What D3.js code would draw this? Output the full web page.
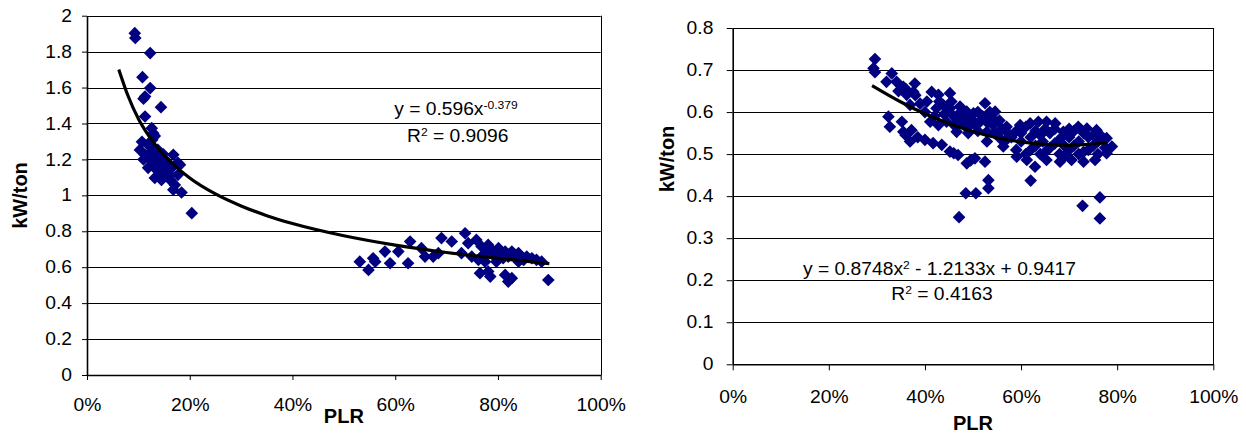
<!DOCTYPE html>
<html>
<head>
<meta charset="utf-8">
<script src="https://cdn.jsdelivr.net/npm/d3@7"></script>
<style>
  body { margin: 0; background: #fff; }
  svg { display: block; font-family: "Liberation Sans", Arial, sans-serif; }
</style>
</head>
<body>
<div id="chart"></div>
<script>
// ---- data ----
const xTicks = [0, 0.2, 0.4, 0.6, 0.8, 1];
const leftYTicks = [0, 0.2, 0.4, 0.6, 0.8, 1, 1.2, 1.4, 1.6, 1.8, 2];
const rightYTicks = [0, 0.1, 0.2, 0.3, 0.4, 0.5, 0.6, 0.7, 0.8];

// [PLR, kW/ton]
const leftPoints = [
  [0.093, 1.903], [0.094, 1.876], [0.123, 1.792], [0.108, 1.658], [0.123, 1.597],
  [0.110, 1.538], [0.113, 1.550], [0.144, 1.491], [0.113, 1.439], [0.126, 1.374],
  [0.129, 1.346], [0.132, 1.330], [0.103, 1.253], [0.107, 1.298], [0.113, 1.226],
  [0.119, 1.281], [0.123, 1.198], [0.127, 1.309], [0.132, 1.170], [0.138, 1.253],
  [0.142, 1.142], [0.146, 1.209], [0.152, 1.114], [0.156, 1.187], [0.162, 1.086],
  [0.165, 1.153], [0.177, 1.114], [0.171, 1.058], [0.181, 1.170], [0.119, 1.153],
  [0.132, 1.097], [0.168, 1.226], [0.177, 1.181], [0.145, 1.086], [0.168, 1.031],
  [0.184, 1.016], [0.204, 0.901], [0.110, 1.200], [0.125, 1.240], [0.135, 1.210],
  [0.150, 1.150], [0.140, 1.180], [0.158, 1.130], [0.128, 1.270], [0.136, 1.140],
  [0.148, 1.230], [0.160, 1.110], [0.118, 1.220], [0.143, 1.120], [0.155, 1.160],
  [0.531, 0.631], [0.548, 0.585], [0.557, 0.650], [0.561, 0.631], [0.580, 0.687],
  [0.590, 0.622], [0.606, 0.687], [0.625, 0.622], [0.629, 0.743], [0.651, 0.706],
  [0.658, 0.659], [0.674, 0.659], [0.684, 0.678], [0.690, 0.762], [0.710, 0.743],
  [0.736, 0.789], [0.742, 0.734], [0.729, 0.678], [0.749, 0.659], [0.758, 0.752],
  [0.768, 0.715], [0.775, 0.678], [0.781, 0.724], [0.788, 0.696], [0.794, 0.659],
  [0.801, 0.706], [0.807, 0.678], [0.814, 0.687], [0.820, 0.659], [0.827, 0.687],
  [0.833, 0.669], [0.840, 0.678], [0.846, 0.659], [0.856, 0.659], [0.866, 0.650],
  [0.875, 0.641], [0.885, 0.631], [0.765, 0.567], [0.781, 0.576], [0.785, 0.548],
  [0.814, 0.557], [0.820, 0.520], [0.827, 0.539], [0.898, 0.529], [0.797, 0.631],
  [0.775, 0.631], [0.840, 0.631], [0.768, 0.659], [0.762, 0.641], [0.810, 0.650],
  [0.790, 0.680], [0.850, 0.640]
];

const leftTrend = [
  [0.062, 1.70], [0.08, 1.553], [0.10, 1.426], [0.12, 1.332], [0.15, 1.223],
  [0.20, 1.097], [0.25, 1.008], [0.30, 0.941], [0.35, 0.887], [0.40, 0.843],
  [0.50, 0.775], [0.60, 0.723], [0.70, 0.682], [0.80, 0.649], [0.90, 0.620]
];

const rightPoints = [
  // upper branch
  [0.296, 0.726], [0.293, 0.704], [0.296, 0.695], [0.331, 0.692], [0.320, 0.672],
  [0.341, 0.672], [0.355, 0.660], [0.379, 0.668], [0.362, 0.641], [0.376, 0.648],
  [0.369, 0.617], [0.414, 0.648], [0.428, 0.641], [0.452, 0.645], [0.404, 0.625],
  [0.424, 0.609], [0.438, 0.617], [0.452, 0.609], [0.473, 0.613], [0.487, 0.601],
  [0.501, 0.597], [0.525, 0.621], [0.546, 0.601], [0.411, 0.577], [0.428, 0.569],
  [0.466, 0.553], [0.445, 0.577], [0.473, 0.577], [0.494, 0.569], [0.515, 0.577],
  [0.529, 0.553], [0.529, 0.530], [0.556, 0.538], [0.570, 0.553], [0.542, 0.569],
  [0.460, 0.590], [0.480, 0.585], [0.500, 0.580], [0.520, 0.590], [0.440, 0.595],
  [0.390, 0.620], [0.400, 0.600], [0.345, 0.650], [0.530, 0.575], [0.555, 0.580],
  [0.510, 0.555], [0.490, 0.550], [0.545, 0.550], [0.420, 0.590], [0.455, 0.625],
  [0.470, 0.595], [0.490, 0.585], [0.510, 0.600], [0.535, 0.600], [0.505, 0.570],
  [0.485, 0.565], [0.460, 0.570], [0.430, 0.625], [0.380, 0.640], [0.360, 0.655],
  [0.540, 0.585], [0.560, 0.560],
  // lower branch
  [0.324, 0.589], [0.327, 0.565], [0.352, 0.577], [0.355, 0.553], [0.372, 0.557],
  [0.369, 0.530], [0.400, 0.534], [0.417, 0.526], [0.435, 0.522], [0.452, 0.506],
  [0.469, 0.498], [0.487, 0.478], [0.504, 0.490], [0.525, 0.482], [0.532, 0.438],
  [0.532, 0.419], [0.485, 0.407], [0.506, 0.407], [0.471, 0.350], [0.360, 0.545],
  [0.385, 0.540], [0.460, 0.502], [0.495, 0.485],
  // dense band
  [0.570, 0.565], [0.598, 0.569], [0.619, 0.573], [0.636, 0.577], [0.653, 0.577],
  [0.671, 0.573], [0.688, 0.553], [0.719, 0.565], [0.737, 0.561], [0.757, 0.557],
  [0.778, 0.538], [0.789, 0.518], [0.778, 0.502], [0.591, 0.494], [0.612, 0.486],
  [0.629, 0.470], [0.620, 0.437], [0.653, 0.486], [0.681, 0.482], [0.705, 0.486],
  [0.730, 0.482], [0.754, 0.486], [0.563, 0.518], [0.580, 0.540], [0.600, 0.530],
  [0.600, 0.550], [0.620, 0.510], [0.620, 0.540], [0.630, 0.555], [0.640, 0.500],
  [0.645, 0.530], [0.660, 0.515], [0.660, 0.550], [0.680, 0.500], [0.680, 0.535],
  [0.700, 0.510], [0.700, 0.540], [0.720, 0.500], [0.720, 0.530], [0.740, 0.510],
  [0.740, 0.540], [0.760, 0.500], [0.760, 0.530], [0.775, 0.515], [0.590, 0.510],
  [0.610, 0.565], [0.650, 0.560], [0.710, 0.555], [0.730, 0.550], [0.750, 0.545],
  [0.690, 0.520], [0.670, 0.560], [0.570, 0.535], [0.610, 0.500], [0.630, 0.520],
  [0.650, 0.505], [0.670, 0.525], [0.690, 0.495], [0.710, 0.520], [0.730, 0.505],
  [0.750, 0.520], [0.765, 0.545], [0.590, 0.555], [0.640, 0.545], [0.700, 0.560],
  // outliers
  [0.728, 0.377], [0.764, 0.397], [0.764, 0.347]
];

const rightTrend = [
  [0.29, 0.663], [0.35, 0.624], [0.40, 0.596], [0.45, 0.573], [0.50, 0.554],
  [0.55, 0.539], [0.60, 0.529], [0.65, 0.523], [0.70, 0.521], [0.75, 0.524],
  [0.78, 0.527]
];

const leftEquation = [
  [["y = 0.596x", false], ["-0.379", true]],
  [["R", false], ["2", true], [" = 0.9096", false]]
];
const rightEquation = [
  [["y = 0.8748x", false], ["2", true], [" - 1.2133x + 0.9417", false]],
  [["R", false], ["2", true], [" = 0.4163", false]]
];

// ---- drawing ----
const W = 1246, H = 434;
const sx = 1.1;           // Excel text is a bit wider than Arial
const tickFont = 17.5;

const svg = d3.select("#chart").append("svg")
  .attr("width", W)
  .attr("height", H);

svg.append("rect").attr("width", W).attr("height", H).attr("fill", "#fff");

function drawChart(c) {
  const x = d3.scaleLinear().domain([0, 1]).range([c.left, c.right]);
  const y = d3.scaleLinear().domain([0, c.yMax]).range([c.bottom, c.top]);
  const g = svg.append("g");

  // gridlines
  g.selectAll("line.grid")
    .data(c.yTicks.filter(d => d > 0))
    .join("line")
    .attr("x1", c.left).attr("x2", c.right)
    .attr("y1", d => Math.round(y(d)) + 0.5).attr("y2", d => Math.round(y(d)) + 0.5)
    .attr("stroke", "#000").attr("stroke-width", 1);

  // right border
  g.append("line")
    .attr("x1", Math.round(c.right) + 0.5).attr("x2", Math.round(c.right) + 0.5)
    .attr("y1", y(c.yMax)).attr("y2", c.bottom)
    .attr("stroke", "#000").attr("stroke-width", 1);

  // y axis
  const ya = g.append("g")
    .attr("transform", `translate(${c.left},0)`)
    .call(d3.axisLeft(y).tickValues(c.yTicks).tickSize(c.tick).tickSizeOuter(0)
      .tickPadding(c.yPad).tickFormat(d => String(+d.toFixed(1))));
  // x axis
  const xa = g.append("g")
    .attr("transform", `translate(0,${c.bottom})`)
    .call(d3.axisBottom(x).tickValues(xTicks).tickSize(c.tick).tickSizeOuter(0)
      .tickPadding(c.xPad).tickFormat(d3.format(".0%")));

  [ya, xa].forEach(a => {
    a.select(".domain").attr("stroke", "#000").attr("stroke-width", 1.6);
    a.selectAll(".tick line").attr("stroke", "#000").attr("stroke-width", 1);
    a.selectAll(".tick text")
      .attr("fill", "#000")
      .style("font-size", tickFont + "px")
      .style("font-family", "Liberation Sans, Arial, sans-serif")
      .attr("transform", `scale(${sx},1)`);
  });

  // points
  const diamond = d3.symbol().type(d3.symbolSquare).size(80);
  g.append("g").selectAll("path")
    .data(c.points)
    .join("path")
    .attr("d", diamond)
    .attr("transform", d => `translate(${x(d[0])},${y(d[1])}) rotate(45)`)
    .attr("fill", "#000080");

  // trendline
  g.append("path")
    .datum(c.trend)
    .attr("fill", "none")
    .attr("stroke", "#000")
    .attr("stroke-width", 3.2)
    .attr("d", d3.line().x(d => x(d[0])).y(d => y(d[1])).curve(d3.curveMonotoneX));

  // equation
  c.eq.forEach((line, i) => {
    const t = g.append("text")
      .attr("transform", `translate(${c.eqX[i]},${c.eqY[i]}) scale(${sx},1)`)
      .attr("text-anchor", "middle")
      .style("font-size", tickFont + "px")
      .attr("fill", "#000");
    line.forEach(([s, sup]) => {
      const ts = t.append("tspan").text(s);
      if (sup) ts.attr("baseline-shift", "super").style("font-size", "11px");
    });
  });

  // axis titles
  g.append("text")
    .attr("x", (c.left + c.right) / 2)
    .attr("y", c.xTitleY)
    .attr("text-anchor", "middle")
    .style("font-size", "20px").style("font-weight", "bold")
    .text("PLR");

  g.append("text")
    .attr("transform", `translate(${c.yTitleX},${c.yTitleY}) rotate(-90)`)
    .attr("text-anchor", "middle")
    .style("font-size", "20px").style("font-weight", "bold")
    .text("kW/ton");
}

drawChart({
  left: 87, right: 600.7, top: 15.7, bottom: 375, yMax: 2,
  yTicks: leftYTicks, tick: 5, yPad: 8.6, xPad: 18.5,
  points: leftPoints, trend: leftTrend,
  eq: leftEquation, eqX: [456, 457.7], eqY: [114.5, 141.7],
  xTitleY: 423.3, yTitleX: 26.7, yTitleY: 195.5
});

drawChart({
  left: 732.7, right: 1213.3, top: 28, bottom: 364.3, yMax: 0.8,
  yTicks: rightYTicks, tick: 6, yPad: 11.6, xPad: 20.5,
  points: rightPoints, trend: rightTrend,
  eq: rightEquation, eqX: [939.5, 942], eqY: [275, 300],
  xTitleY: 430, yTitleX: 674, yTitleY: 159
});
</script>
</body>
</html>
